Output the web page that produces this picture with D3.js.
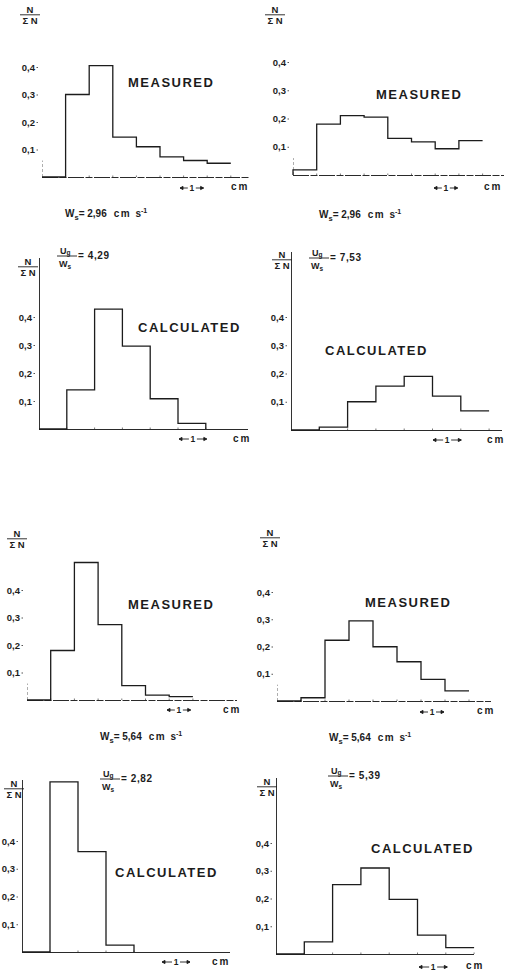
<!DOCTYPE html>
<html>
<head>
<meta charset="utf-8">
<script src="https://cdn.jsdelivr.net/npm/d3@7"></script>
<style>
  body { margin: 0; background: #fff; }
  svg { display: block; font-family: "Liberation Sans", Arial, sans-serif; font-weight: bold; }
</style>
</head>
<body>
<div id="chart"></div>
<script>
// relative frequency N / ΣN per 1 cm class, first class starts at the axis
const measuredA = [0, 0.30, 0.405, 0.145, 0.11, 0.073, 0.06, 0.05];
const calculatedA = [0, 0.14, 0.428, 0.296, 0.108, 0.02];
const measuredB = [0.018, 0.18, 0.21, 0.205, 0.13, 0.117, 0.093, 0.122];
const calculatedB = [0, 0.01, 0.10, 0.155, 0.19, 0.12, 0.068];
const measuredC = [0, 0.18, 0.50, 0.274, 0.052, 0.018, 0.012];
const calculatedC = [0, 0.613, 0.362, 0.025];
const measuredD = [0, 0.012, 0.223, 0.294, 0.199, 0.144, 0.079, 0.037];
const calculatedD = [0, 0.044, 0.25, 0.31, 0.197, 0.068, 0.023];

const yTicks = [0.1, 0.2, 0.3, 0.4];
const settling = [2.96, 2.96, 5.64, 5.64];   // Ws, cm s-1
const ratios = [4.29, 7.53, 2.82, 5.39];     // Ug / Ws

const comma = v => d3.format('.2f')(v).replace('.', ',');
const tickFmt = v => d3.format('.1f')(v).replace('.', ',');

const svg = d3.select('#chart')
  .append('svg')
  .attr('width', 507)
  .attr('height', 974);

const ink = '#1c1c1c';

// layout of the eight panels
const panels = [
  { values: measuredA, label: 'MEASURED', axisX: 42, baseY: 177, top04: 67, binW: 23.6, xEnd: 250,
    labelX: 128, labelY: 87, barX: 180, barY: 188, cmX: 231, cmY: 190, nX: 30, nY: 13 },
  { values: measuredB, label: 'MEASURED', axisX: 293, baseY: 175, top04: 62, binW: 23.7, xEnd: 504,
    labelX: 376, labelY: 99, barX: 434, barY: 188, cmX: 484, cmY: 190, nX: 275, nY: 13 },
  { values: calculatedA, label: 'CALCULATED', axisX: 39, baseY: 429, top04: 317, binW: 27.8, xEnd: 248, drop: true,
    labelX: 138, labelY: 332, barX: 179, barY: 439, cmX: 233, cmY: 442, nX: 28, nY: 265, axisTop: 258,
    ws: 0, wsX: 65, wsY: 217, fx: 57, fy: 256 },
  { values: calculatedB, label: 'CALCULATED', axisX: 291, baseY: 430, top04: 317, binW: 28.3, xEnd: 502,
    labelX: 325, labelY: 355, barX: 433, barY: 440, cmX: 487, cmY: 443, nX: 282, nY: 258, axisTop: 252,
    ws: 1, wsX: 319, wsY: 218, fx: 309, fy: 258 },
  { values: measuredC, label: 'MEASURED', axisX: 27, baseY: 700, top04: 590, binW: 23.7, xEnd: 237,
    labelX: 128, labelY: 609, barX: 167, barY: 710, cmX: 223, cmY: 713, nX: 17, nY: 537 },
  { values: measuredD, label: 'MEASURED', axisX: 277, baseY: 701, top04: 592, binW: 24, xEnd: 491,
    labelX: 365, labelY: 607, barX: 420, barY: 712, cmX: 477, cmY: 714, nX: 270, nY: 536 },
  { values: calculatedC, label: 'CALCULATED', axisX: 22, baseY: 952, top04: 841, binW: 28, xEnd: 230, drop: true,
    labelX: 115, labelY: 877, barX: 162, barY: 962, cmX: 212, cmY: 965, nX: 14, nY: 787, axisTop: 780,
    ws: 2, wsX: 100, wsY: 740, fx: 100, fy: 779 },
  { values: calculatedD, label: 'CALCULATED', axisX: 276, baseY: 954, top04: 843, binW: 28.3, xEnd: 474,
    labelX: 371, labelY: 853, barX: 419, barY: 967, cmX: 466, cmY: 969, nX: 267, nY: 785, axisTop: 778,
    ws: 3, wsX: 329, wsY: 741, fx: 328, fy: 776 }
];

panels.forEach(drawPanel);

function drawPanel(p) {
  const n = p.values.length;
  const g = svg.append('g');

  const x = d3.scaleLinear().domain([0, n]).range([p.axisX, p.axisX + n * p.binW]);
  const y = d3.scaleLinear().domain([0, 0.4]).range([p.baseY, p.top04]);

  // baseline
  g.append('line')
    .attr('x1', p.axisX).attr('x2', p.xEnd)
    .attr('y1', p.baseY + 0.5).attr('y2', p.baseY + 0.5)
    .attr('stroke', '#2a2a2a')
    .attr('stroke-width', 1)
    .attr('stroke-dasharray', p.axisTop ? null : '16,1.5,7,1.5');

  // small marks on class limits
  g.append('g')
    .selectAll('line')
    .data(d3.range(1, n + 1))
    .join('line')
    .attr('x1', d => x(d)).attr('x2', d => x(d))
    .attr('y1', p.baseY).attr('y2', p.baseY - 1.5)
    .attr('stroke', '#555')
    .attr('stroke-width', 0.8);

  // y axis line
  g.append('line')
    .attr('x1', p.axisX + 0.5).attr('x2', p.axisX + 0.5)
    .attr('y1', p.baseY)
    .attr('y2', p.axisTop ? p.axisTop : y(0.06))
    .attr('stroke', p.axisTop ? '#333' : '#999')
    .attr('stroke-width', p.axisTop ? 1 : 0.8)
    .attr('stroke-dasharray', p.axisTop ? null : '3,2');

  // tick labels
  const axis = g.append('g')
    .attr('transform', `translate(${p.axisX - 4},0)`)
    .call(d3.axisLeft(y).tickValues(yTicks).tickFormat(tickFmt).tickSize(1.5).tickPadding(1.5));
  axis.select('.domain').remove();
  axis.selectAll('.tick line').attr('stroke', '#555');
  axis.selectAll('.tick text')
    .attr('font-family', '"Liberation Sans", Arial, sans-serif')
    .attr('font-weight', 'bold')
    .attr('font-size', 9.5)
    .attr('fill', ink);

  // histogram outline
  const pts = [[0, 0]].concat(p.values.map((v, i) => [i, v]), [[n, p.values[n - 1]]]);
  if (p.drop) pts.push([n, 0]);
  g.append('path')
    .datum(pts)
    .attr('fill', 'none')
    .attr('stroke', ink)
    .attr('stroke-width', 1.3)
    .attr('d', d3.line().x(d => x(d[0])).y(d => y(d[1])).curve(d3.curveStepAfter));

  // panel title
  g.append('text')
    .attr('x', p.labelX).attr('y', p.labelY)
    .attr('font-size', 13)
    .attr('letter-spacing', 1.5)
    .attr('fill', ink)
    .text(p.label);

  // N / ΣN
  const yl = g.append('g').attr('font-size', 9.5).attr('fill', ink).attr('text-anchor', 'middle');
  yl.append('text').attr('x', p.nX).attr('y', p.nY).text('N');
  yl.append('line')
    .attr('x1', p.nX - 10).attr('x2', p.nX + 10)
    .attr('y1', p.nY + 1.8).attr('y2', p.nY + 1.8)
    .attr('stroke', ink).attr('stroke-width', 0.9);
  yl.append('text').attr('x', p.nX).attr('y', p.nY + 10.5).text('Σ N');

  // 1 cm scale bar
  const s = g.append('g').attr('stroke', ink).attr('stroke-width', 0.9);
  const mid = p.barX + p.binW / 2;
  s.append('line').attr('x1', p.barX).attr('x2', mid - 4).attr('y1', p.barY).attr('y2', p.barY);
  s.append('line').attr('x1', mid + 4).attr('x2', p.barX + p.binW).attr('y1', p.barY).attr('y2', p.barY);
  s.append('path').attr('fill', ink)
    .attr('d', `M${p.barX},${p.barY}l3,-1.6v3.2z M${p.barX + p.binW},${p.barY}l-3,-1.6v3.2z`);
  g.append('text')
    .attr('x', mid).attr('y', p.barY + 3)
    .attr('text-anchor', 'middle')
    .attr('font-size', 8.5)
    .attr('fill', ink)
    .text('1');
  g.append('text')
    .attr('x', p.cmX).attr('y', p.cmY)
    .attr('font-size', 10)
    .attr('letter-spacing', 2)
    .attr('fill', ink)
    .text('cm');

  if (p.ws !== undefined) drawSpeeds(g, p);
}

function drawSpeeds(g, p) {
  const t = g.append('text')
    .attr('x', p.wsX).attr('y', p.wsY)
    .attr('font-size', 10)
    .attr('fill', ink);
  t.append('tspan').text('W');
  t.append('tspan').attr('dy', 3).attr('font-size', 7.5).text('s');
  t.append('tspan').attr('dy', -3).text('= ' + comma(settling[p.ws]));
  t.append('tspan').attr('dx', 7).attr('letter-spacing', 1.5).text('cm ');
  t.append('tspan').text('s');
  t.append('tspan').attr('dy', -4).attr('font-size', 7).text('-1');

  // Ug / Ws fraction
  const u = g.append('text').attr('x', p.fx + 3).attr('y', p.fy - 2.5).attr('font-size', 9).attr('fill', ink);
  u.append('tspan').text('U');
  u.append('tspan').attr('dy', 1.5).attr('font-size', 6.5).text('g');
  g.append('line')
    .attr('x1', p.fx).attr('x2', p.fx + 20)
    .attr('y1', p.fy).attr('y2', p.fy)
    .attr('stroke', ink).attr('stroke-width', 0.9);
  const w = g.append('text').attr('x', p.fx + 2).attr('y', p.fy + 11).attr('font-size', 9).attr('fill', ink);
  w.append('tspan').text('W');
  w.append('tspan').attr('dy', 1.5).attr('font-size', 6.5).text('s');
  g.append('text')
    .attr('x', p.fx + 21).attr('y', p.fy + 2.5)
    .attr('font-size', 10)
    .attr('letter-spacing', 0.6)
    .attr('fill', ink)
    .text('= ' + comma(ratios[p.ws]));
}
</script>
</body>
</html>
